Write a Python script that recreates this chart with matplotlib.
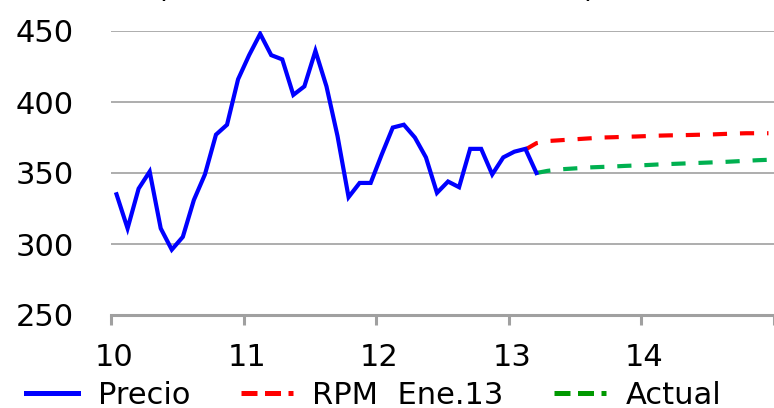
import numpy as np
import matplotlib
matplotlib.use("Agg")
import matplotlib.pyplot as plt
import matplotlib.transforms as mtransforms
from matplotlib.lines import Line2D

# monthly price, Jan 2010 .. Mar 2013 (mid-month positions)
precio = [335, 311, 339, 351, 311, 296, 305, 331, 349, 377, 384, 416,
          433, 448, 433, 430, 405, 411, 436, 411, 376, 333, 343, 343,
          363, 382, 384, 375, 361, 336, 344, 340, 367, 367, 349, 361,
          365, 367, 350]
# forecasts, monthly from Feb 2013 (RPM) / Mar 2013 (actual)
rpm = [366.5, 371, 372.5, 373, 373.5, 374, 374.5, 375, 375.2, 375.5, 375.7,
       376, 376.3, 376.5, 376.6, 376.8, 377, 377.2, 377.5, 377.8, 378, 378, 378]
actual = [350, 351.5, 352.5, 353, 353.5, 354, 354.3, 354.6, 355, 355.3, 355.6,
          356, 356.3, 356.6, 356.9, 357.2, 357.5, 357.8, 358.2, 358.6, 359,
          359.3]
years = [10, 11, 12, 13, 14, 15]
year_labels = ["10", "11", "12", "13", "14", ""]
yticks = [250, 300, 350, 400, 450]

t_p = 10 + (np.arange(len(precio)) + 0.5) / 12
t_r = 10 + (np.arange(len(rpm)) + 37.5) / 12
t_a = 10 + (np.arange(len(actual)) + 38.5) / 12

BLUE, RED, GREEN, LGREEN = "#0000FF", "#FF0000", "#00B050", "#009900"
GRAY = "#A0A0A0"
FS = 22

fig = plt.figure(figsize=(7.74, 4.08), dpi=100)
ax = fig.add_axes([111 / 774, 1 - 315 / 408, 1 - 111 / 774, (315 - 31) / 408])

ax.plot(t_r, rpm, color=RED, lw=3, dashes=(3.4, 3.1))
ax.plot(t_a, actual, color=GREEN, lw=3, dashes=(3.4, 3.1))
ax.plot(t_p, precio, color=BLUE, lw=3, solid_joinstyle="miter")

ax.set_xlim(10, 15)
ax.set_ylim(250, 450)
ax.set_yticks(yticks)
ax.set_xticks(years, year_labels)
ax.grid(axis="y", color=GRAY, lw=1.2)
ax.set_axisbelow(True)
for s in ("top", "right", "left"):
    ax.spines[s].set_visible(False)
ax.spines["bottom"].set_color(GRAY)
ax.spines["bottom"].set_linewidth(2.2)
ax.tick_params(axis="y", length=0, pad=27, labelsize=FS)
ax.tick_params(axis="x", length=7.5, width=2.2, color=GRAY, pad=13,
               labelsize=FS)
shift = mtransforms.ScaledTranslation(3 / 100, 0, fig.dpi_scale_trans)
for lab in ax.get_xticklabels():
    lab.set_transform(lab.get_transform() + shift)
    lab.set_clip_on(False)

# cut-off unit label above the plot
fig.text(155 / 774, 1 + 3 / 408, "(", fontsize=FS, va="baseline")
fig.text(584 / 774, 1 + 3 / 408, ")", fontsize=FS, va="baseline")

handles = [Line2D([], [], color=BLUE, lw=3.6),
           Line2D([], [], color=RED, lw=3.6, dashes=(3.2, 1.5)),
           Line2D([], [], color=LGREEN, lw=3.6, dashes=(3.2, 1.5))]
fig.legend(handles, ["Precio", "RPM  Ene.13", "Actual"], ncol=3,
           loc="center left", bbox_to_anchor=(26 / 774, 1 - 395 / 408),
           frameon=False, fontsize=FS, handlelength=1.7, handletextpad=0.65,
           columnspacing=1.65, borderpad=0, borderaxespad=0)

fig.savefig("out.png", dpi=100)
